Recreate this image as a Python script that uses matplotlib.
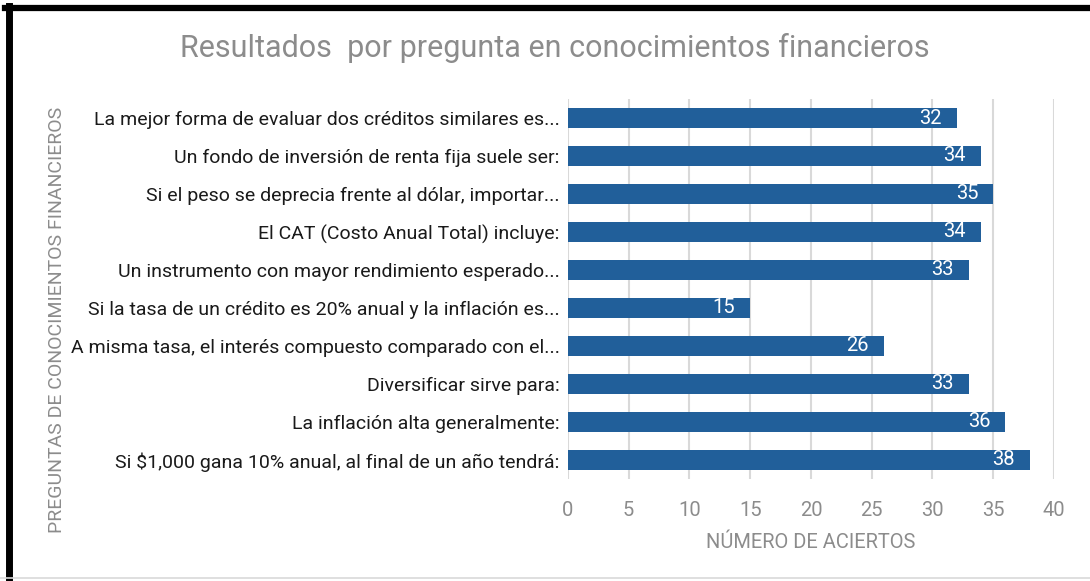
import matplotlib.pyplot as plt
from matplotlib.lines import Line2D

preguntas = [
    "La mejor forma de evaluar dos créditos similares es...",
    "Un fondo de inversión de renta fija suele ser:",
    "Si el peso se deprecia frente al dólar, importar...",
    "El CAT (Costo Anual Total) incluye:",
    "Un instrumento con mayor rendimiento esperado...",
    "Si la tasa de un crédito es 20% anual y la inflación es...",
    "A misma tasa, el interés compuesto comparado con el...",
    "Diversificar sirve para:",
    "La inflación alta generalmente:",
    "Si $1,000 gana 10% anual, al final de un año tendrá:",
]
aciertos = [32, 34, 35, 34, 33, 15, 26, 33, 36, 38]
x_ticks = [0, 5, 10, 15, 20, 25, 30, 35, 40]

bar_color = "#215f9a"
gray = "#8c8c8c"

plt.rcParams["font.family"] = ["Roboto", "DejaVu Sans"]


def main():
    fig = plt.figure(figsize=(10.9, 5.81), dpi=100)
    ax = fig.add_axes([0.521, 0.1756, 0.446, 0.654])

    y_pos = list(range(len(preguntas)))
    bars = ax.barh(y_pos, aciertos, height=0.53, color=bar_color, zorder=3)
    ax.set_yticks(y_pos)
    ax.set_yticklabels([p.replace("$", r"\$") for p in preguntas],
                       fontsize=14, color="#1a1a1a")
    ax.set_ylim(len(preguntas) - 0.5, -0.5)

    ax.set_xlim(0, 40)
    ax.set_xticks(x_ticks)
    ax.tick_params(axis="x", colors=gray, labelsize=14.5, length=0, pad=16)
    ax.tick_params(axis="y", length=0, pad=6)
    ax.xaxis.grid(True, color="#d9d9d9", linewidth=1.5, zorder=0)
    for s in ax.spines.values():
        s.set_visible(False)

    # value labels inside the bar ends
    ax.bar_label(bars, labels=[str(v) for v in aciertos], padding=-27,
                 color="white", fontsize=14.5)

    ax.set_xlabel("NÚMERO DE ACIERTOS", color=gray, fontsize=14.5, labelpad=9)
    fig.text(0.052, 0.449, "PREGUNTAS DE CONOCIMIENTOS FINANCIEROS", rotation=90,
             ha="center", va="center", color=gray, fontsize=14)
    fig.text(0.509, 0.918, "Resultados  por pregunta en conocimientos financieros",
             ha="center", va="center", color=gray, fontsize=22)

    # frame lines around the chart
    fig.add_artist(Line2D([0.005, 1.0], [0.986, 0.986], color="black",
                          linewidth=4.5, transform=fig.transFigure))
    fig.add_artist(Line2D([0.008, 0.008], [0.0, 0.99], color="black",
                          linewidth=5, transform=fig.transFigure))
    fig.add_artist(Line2D([0.0, 1.0], [0.005, 0.005], color="#d9d9d9",
                          linewidth=1.2, transform=fig.transFigure))

    fig.savefig("out.png", dpi=100)


if __name__ == "__main__":
    main()
